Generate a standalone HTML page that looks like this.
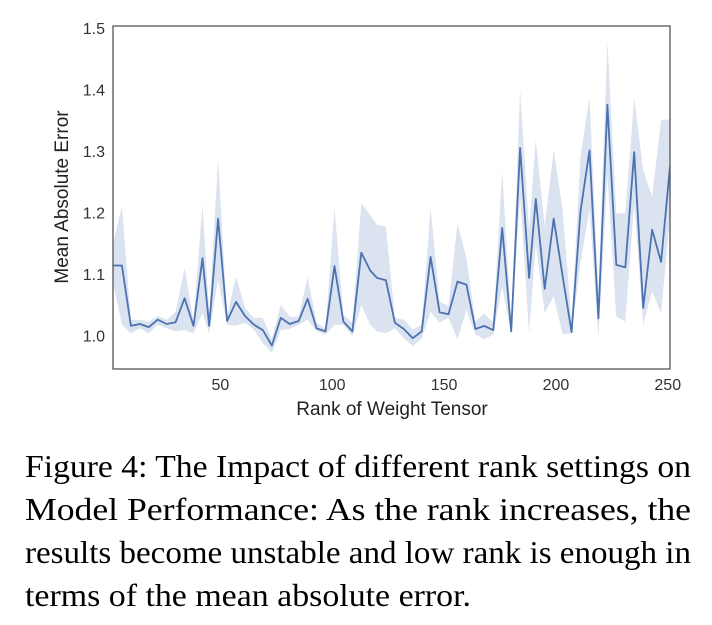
<!DOCTYPE html>
<html><head><meta charset="utf-8"><style>
html,body{margin:0;padding:0;background:#fff;}
svg{display:block;}
</style></head><body>
<svg id="chart" width="712" height="625" xmlns="http://www.w3.org/2000/svg">
<g id="plot"></g>
<text transform="translate(68,197) rotate(-90)" text-anchor="middle" font-family="Liberation Sans, sans-serif" font-size="19" fill="#222">Mean Absolute Error</text>
<text x="392" y="415" text-anchor="middle" font-family="Liberation Sans, sans-serif" font-size="19" fill="#222">Rank of Weight Tensor</text>
<g font-family="Liberation Serif, serif" font-size="32" fill="#000">
<text x="25" y="477" textLength="666" lengthAdjust="spacingAndGlyphs">Figure 4: The Impact of different rank settings on</text>
<text x="25" y="520" textLength="666" lengthAdjust="spacingAndGlyphs">Model Performance:  As the rank increases, the</text>
<text x="25" y="563" textLength="666" lengthAdjust="spacingAndGlyphs">results become unstable and low rank is enough in</text>
<text x="25" y="606" textLength="446" lengthAdjust="spacingAndGlyphs">terms of the mean absolute error.</text>
</g>
</svg>
<script>
const ranks = [2,6,10,14,18,22,26,30,34,38,42,45,49,53,57,61,65,69,73,77,81,85,89,93,97,101,105,109,113,117,120,124,128,132,136,140,144,148,152,156,160,164,168,172,176,180,184,188,191,195,199,203,207,211,215,219,223,227,231,235,239,243,247,251];
const meanVals = [1.114,1.114,1.016,1.019,1.014,1.026,1.019,1.022,1.061,1.016,1.126,1.016,1.190,1.024,1.055,1.032,1.018,1.009,0.984,1.029,1.019,1.024,1.060,1.012,1.007,1.113,1.023,1.007,1.135,1.106,1.094,1.090,
1.021,1.011,0.996,1.007,1.128,1.038,1.035,1.088,1.083,1.011,1.016,1.009,1.175,1.007,1.305,1.094,1.222,1.076,1.190,1.097,1.006,1.202,1.301,1.028,1.375,1.115,1.111,1.298,1.045,1.172,1.120,1.275];
const upperVals = [1.150,1.210,1.026,1.026,1.023,1.032,1.026,1.039,1.110,1.023,1.215,1.037,1.288,1.032,1.096,1.045,1.029,1.029,0.994,1.050,1.031,1.031,1.096,1.021,1.012,1.207,1.034,1.021,1.215,1.196,1.180,1.177,
1.029,1.026,1.010,1.018,1.207,1.056,1.048,1.183,1.126,1.023,1.036,1.021,1.267,1.021,1.399,1.172,1.318,1.177,1.302,1.205,1.021,1.291,1.388,1.070,1.478,1.199,1.199,1.386,1.269,1.226,1.351,1.351];
const lowerVals = [1.086,1.018,1.004,1.012,1.004,1.018,1.012,1.007,1.009,1.004,1.037,1.004,1.091,1.018,1.016,1.021,1.010,0.988,0.972,1.009,1.011,1.018,1.026,1.007,1.002,1.018,1.018,0.999,1.050,1.018,1.007,1.004,
1.012,0.996,0.983,0.996,1.039,1.021,1.029,0.994,1.042,1.002,0.994,1.002,1.080,1.002,1.226,1.004,1.150,1.037,1.064,1.002,1.004,1.118,1.205,0.999,1.259,1.031,1.023,1.215,1.018,1.072,1.037,1.194];
const xTicks = [50,100,150,200,250];
const yTicks = [1.0,1.1,1.2,1.3,1.4,1.5];
const yTickLabels = ["1.0","1.1","1.2","1.3","1.4","1.5"];

const L=113,R=670,T=26,B=369;
const X0=2,X1=251,Y0=0.946,Y1=1.503;
function xs(v){return L+(v-X0)/(X1-X0)*(R-L);}
function ys(v){return B-(v-Y0)/(Y1-Y0)*(B-T);}
const NS="http://www.w3.org/2000/svg";
const g=document.getElementById('plot');
function mk(tag,attrs,parent){const e=document.createElementNS(NS,tag);for(const k in attrs)e.setAttribute(k,attrs[k]);(parent||g).appendChild(e);return e;}

let d='';
for(let i=0;i<ranks.length;i++){d+=(i?'L':'M')+xs(ranks[i]).toFixed(1)+','+ys(upperVals[i]).toFixed(1);}
for(let i=ranks.length-1;i>=0;i--){d+='L'+xs(ranks[i]).toFixed(1)+','+ys(lowerVals[i]).toFixed(1);}
d+='Z';
const cp=mk('clipPath',{id:'clip'});mk('rect',{x:L,y:T,width:R-L,height:B-T},cp);
const band=mk('path',{d:d,fill:'#dbe3f0','clip-path':'url(#clip)'});


let dl='';
for(let i=0;i<ranks.length;i++){dl+=(i?'L':'M')+xs(ranks[i]).toFixed(1)+','+ys(meanVals[i]).toFixed(1);}
const line=mk('path',{d:dl,fill:'none',stroke:'#4c72b0','stroke-width':'1.8','stroke-linejoin':'round','clip-path':'url(#clip)'});


const frame=mk('rect',{x:L,y:T,width:R-L,height:B-T,fill:'none',stroke:'#555','stroke-width':'1.3'});


xTicks.forEach(function(t){
  const tx=mk('text',{x:xs(t),y:390,'text-anchor':'middle','font-family':'Liberation Sans, sans-serif','font-size':'16',fill:'#333'});
  tx.textContent=String(t);
  
  
});
yTicks.forEach(function(t,i){
  const ty=mk('text',{x:105,y:ys(t)+6,'text-anchor':'end','font-family':'Liberation Sans, sans-serif','font-size':'16',fill:'#333'});
  ty.textContent=yTickLabels[i];
  
  
});
</script>
</body></html>
